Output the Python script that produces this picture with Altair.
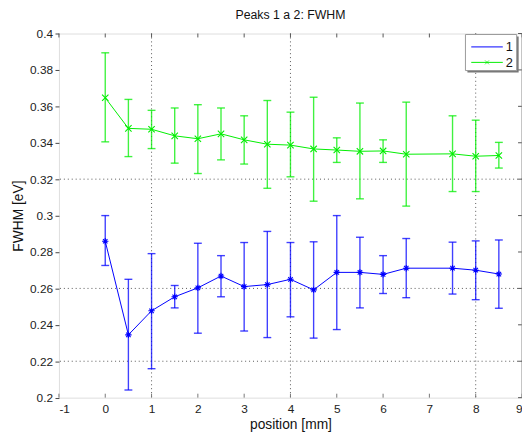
import altair as alt
import pandas as pd

# ---- data ----
pos = [0, 0.5, 1, 1.5, 2, 2.5, 3, 3.5, 4, 4.5, 5, 5.5, 6, 6.5, 7.5, 8, 8.5]
fwhm1 = [0.2859, 0.2345, 0.2477, 0.2554, 0.2603, 0.2668, 0.2610, 0.2621, 0.2650,
         0.2592, 0.2688, 0.2688, 0.2677, 0.2711, 0.2711, 0.2700, 0.2679]
lo1 = [0.2726, 0.2042, 0.2159, 0.2493, 0.2354, 0.2554, 0.2366, 0.2330, 0.2444,
       0.2327, 0.2374, 0.2493, 0.2572, 0.2549, 0.2569, 0.2538, 0.2491]
hi1 = [0.3000, 0.2650, 0.2791, 0.2616, 0.2848, 0.2780, 0.2852, 0.2913, 0.2852,
       0.2856, 0.3000, 0.2881, 0.2780, 0.2874, 0.2854, 0.2861, 0.2866]
fwhm2 = [0.3647, 0.3479, 0.3474, 0.3438, 0.3422, 0.3449, 0.3416, 0.3392, 0.3387,
         0.3366, 0.3360, 0.3353, 0.3355, 0.3337, 0.3339, 0.3326, 0.3330]
lo2 = [0.3405, 0.3324, 0.3368, 0.3288, 0.3231, 0.3306, 0.3283, 0.3150, 0.3213,
       0.3079, 0.3292, 0.3092, 0.3292, 0.3052, 0.3132, 0.3132, 0.3261]
hi2 = [0.3894, 0.3638, 0.3578, 0.3591, 0.3609, 0.3591, 0.3548, 0.3632, 0.3568,
       0.3650, 0.3427, 0.3618, 0.3416, 0.3623, 0.3548, 0.3524, 0.3402]

x_ticks = [-1, 0, 1, 2, 3, 4, 5, 6, 7, 8, 9]
y_ticks = [0.2, 0.22, 0.24, 0.26, 0.28, 0.3, 0.32, 0.34, 0.36, 0.38, 0.4]
x_grid = [1, 4, 8]
y_grid = [0.22, 0.26, 0.32]

series_names = ["1", "2"]
colors = ["#0000ff", "#00ee00"]

W, H = 470, 369.6
FONT = "Liberation Sans"

d1 = pd.DataFrame({"pos": pos, "v": fwhm1, "lo": lo1, "hi": hi1})
d2 = pd.DataFrame({"pos": pos, "v": fwhm2, "lo": lo2, "hi": hi2})

xs = alt.Scale(domain=[-1, 9], nice=False, zero=False)
ys = alt.Scale(domain=[0.2, 0.4], nice=False, zero=False)

xaxis = alt.Axis(values=x_ticks, labelExpr="datum.value + ''", tickSize=0,
                 labelPadding=6, domain=False, grid=False, labelOverlap=False,
                 labelFontSize=12, labelColor="#222", labelFont=FONT,
                 title="position [mm]", titleFont=FONT, titleFontSize=14,
                 titleFontWeight="normal", titleColor="#111", titlePadding=3)
yaxis = alt.Axis(values=y_ticks, labelExpr="format(datum.value, '.2~f')",
                 tickSize=4, tickColor="#444",
                 labelPadding=2.5, domain=False, grid=False, labelOverlap=False,
                 labelFontSize=12, labelColor="#222", labelFont=FONT,
                 title="FWHM [eV]", titleFont=FONT, titleFontSize=14,
                 titleFontWeight="normal", titleColor="#111", titlePadding=4)

asterisk = "M-1,0L1,0M0,-1L0,1M-0.7,-0.7L0.7,0.7M-0.7,0.7L0.7,-0.7"
cross_x = "M-1,-1L1,1M-1,1L1,-1"


def X(f):
    return alt.X(f, scale=xs, axis=xaxis)


def Y(f):
    return alt.Y(f, scale=ys, axis=yaxis)


vgrid = alt.Chart(pd.DataFrame({"g": x_grid})).mark_rule(
    color="#555", strokeDash=[1, 3], strokeWidth=1
).encode(x=X("g:Q"))

hgrid = alt.Chart(pd.DataFrame({"g": y_grid})).mark_rule(
    color="#555", strokeDash=[1, 3], strokeWidth=1
).encode(y=Y("g:Q"))

# inward ticks bottom/top/right
xt = pd.DataFrame({"t": x_ticks})
yt = pd.DataFrame({"t": y_ticks})
tick_bottom = alt.Chart(xt).mark_rule(color="#777").encode(
    x=X("t:Q"), y=alt.value(H), y2=alt.value(H - 4))
tick_top = alt.Chart(xt).mark_rule(color="#555").encode(
    x=X("t:Q"), y=alt.value(0), y2=alt.value(4))
tick_right = alt.Chart(yt).mark_rule(color="#555").encode(
    y=Y("t:Q"), x=alt.value(W), x2=alt.value(W - 4))

right_edge = alt.Chart(pd.DataFrame({"a": [0]})).mark_rule(color="#888").encode(
    x=alt.value(W), y=alt.value(0), y2=alt.value(H))


def series(df, color, shape):
    err = alt.Chart(df).mark_rule(color=color, strokeWidth=1.4, opacity=0.75).encode(
        x=X("pos:Q"), y=Y("lo:Q"), y2="hi:Q")
    cap_lo = alt.Chart(df).mark_tick(color=color, size=8, thickness=1.4, opacity=0.75,
                                     orient="horizontal").encode(
        x=X("pos:Q"), y=Y("lo:Q"))
    cap_hi = alt.Chart(df).mark_tick(color=color, size=8, thickness=1.4, opacity=0.75,
                                     orient="horizontal").encode(
        x=X("pos:Q"), y=Y("hi:Q"))
    line = alt.Chart(df).mark_line(color=color, strokeWidth=1).encode(
        x=X("pos:Q"), y=Y("v:Q"))
    pts = alt.Chart(df).mark_point(shape=shape, color=color, size=42, strokeWidth=1.1,
                                   filled=False, opacity=1).encode(
        x=X("pos:Q"), y=Y("v:Q"))
    return [err, cap_lo, cap_hi, line, pts]


# legend (box drawn in pixel space)
one = pd.DataFrame({"a": [0]})
LX0, LX1, LY0, LY1 = 412.6, 464.6, 1, 37.6
leg_shadow = alt.Chart(one).mark_rect(fill="#777").encode(
    x=alt.value(LX0 + 2), x2=alt.value(LX1 + 2), y=alt.value(LY0 + 2), y2=alt.value(LY1 + 2))
leg_box = alt.Chart(one).mark_rect(fill="white", stroke="#999", strokeWidth=1).encode(
    x=alt.value(LX0), x2=alt.value(LX1), y=alt.value(LY0), y2=alt.value(LY1))
leg_l1 = alt.Chart(one).mark_rule(color=colors[0], strokeWidth=1).encode(
    x=alt.value(418.5), x2=alt.value(450.5), y=alt.value(13.6))
leg_l2 = alt.Chart(one).mark_rule(color=colors[1], strokeWidth=1).encode(
    x=alt.value(418.5), x2=alt.value(450.5), y=alt.value(29.3))
leg_m2 = alt.Chart(one).mark_point(shape=cross_x, color=colors[1], size=16,
                                   strokeWidth=1).encode(
    x=alt.value(434.5), y=alt.value(29.3))
leg_t1 = alt.Chart(one).mark_text(text=series_names[0], font=FONT, fontSize=13,
                                  align="left", baseline="middle", color="#111").encode(
    x=alt.value(453.5), y=alt.value(14))
leg_t2 = alt.Chart(one).mark_text(text=series_names[1], font=FONT, fontSize=13,
                                  align="left", baseline="middle", color="#111").encode(
    x=alt.value(453.5), y=alt.value(29.8))

layers = [vgrid, hgrid, tick_bottom, tick_top, tick_right, right_edge]
layers += series(d1, colors[0], asterisk)
layers += series(d2, colors[1], cross_x)
layers += [leg_shadow, leg_box, leg_l1, leg_l2, leg_m2, leg_t1, leg_t2]

chart = alt.layer(*layers).properties(
    width=W, height=H,
    title=alt.TitleParams("Peaks 1 a 2: FWHM", font=FONT, fontSize=12.5,
                          fontWeight="normal", color="#111", anchor="middle", offset=6.5),
    autosize=alt.AutoSizeParams(type="none"),
    padding={"left": 51.7, "top": 22.7, "right": 0, "bottom": 33.7},
).configure_view(stroke="#c8c8c8", strokeWidth=1).configure(
    background="white").configure_axis(labelOverlap=False)

chart.save("out.html", embed_options={"renderer": "svg", "actions": False})
